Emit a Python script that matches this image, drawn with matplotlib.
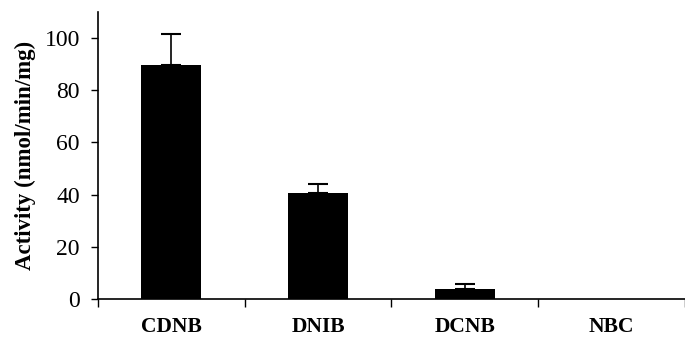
import matplotlib.pyplot as plt
import numpy as np

categories = ["CDNB", "DNIB", "DCNB", "NBC"]
activity = [89.5, 40.5, 4, 0]
errors = [12, 3.5, 2, 0]

plt.rcParams["font.family"] = ["Liberation Serif", "DejaVu Serif"]

fig = plt.figure(figsize=(6.85, 3.4), dpi=100)
ax = fig.add_axes([0.143, 0.12, 0.857, 0.845])

x = np.arange(len(categories))
ax.bar(x, activity, width=0.41, color="black", zorder=3)
# only the upper half of each error bar shows above the bar
ax.errorbar(x[:3], activity[:3], yerr=[np.zeros(3), errors[:3]], fmt="none",
            ecolor="black", elinewidth=1.2, capsize=7, capthick=1.5, zorder=2)

ax.set_xlim(-0.5, 3.5)
ax.set_ylim(0, 110)
ax.set_yticks([0, 20, 40, 60, 80, 100])
ax.tick_params(axis="y", labelsize=17, length=5, width=1, direction="out", pad=8)

# category ticks sit on the boundaries between bars
ax.set_xticks(x)
ax.set_xticklabels(categories, fontsize=15.5, fontweight="bold")
ax.tick_params(axis="x", length=0, pad=13)
ax.set_xticks(np.arange(-0.5, 3.6, 1), minor=True)
ax.tick_params(axis="x", which="minor", length=6, width=1, direction="out")

ax.set_ylabel("Activity (nmol/min/mg)", fontsize=16.5, fontweight="bold", labelpad=6)

for side in ["top", "right"]:
    ax.spines[side].set_visible(False)
ax.spines["left"].set_linewidth(1.2)
ax.spines["bottom"].set_linewidth(1.2)

fig.savefig("out.png", dpi=100)
